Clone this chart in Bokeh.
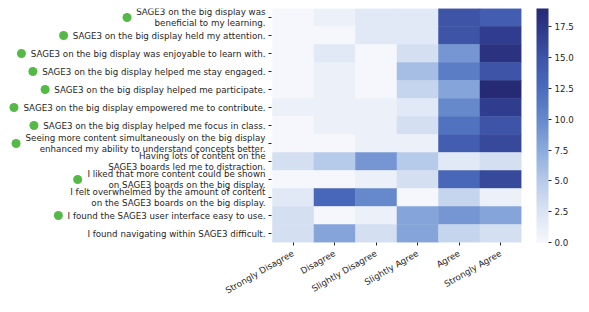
import numpy as np
from bokeh.plotting import figure
from bokeh.models import (FactorRange, Range1d, LinearColorMapper, ColorBar, FixedTicker,
                          PrintfTickFormatter, ColumnDataSource)
from bokeh.embed import file_html
from bokeh.resources import INLINE
from bokeh.core.properties import value

# ---------------- data ----------------
responses = ["Strongly Disagree", "Disagree", "Slightly Disagree",
             "Slightly Agree", "Agree", "Strongly Agree"]

statements = [
    "SAGE3 on the big display was\nbeneficial to my learning.",
    "SAGE3 on the big display held my attention.",
    "SAGE3 on the big display was enjoyable to learn with.",
    "SAGE3 on the big display helped me stay engaged.",
    "SAGE3 on the big display helped me participate.",
    "SAGE3 on the big display empowered me to contribute.",
    "SAGE3 on the big display helped me focus in class.",
    "Seeing more content simultaneously on the big display\nenhanced my ability to understand concepts better.",
    "Having lots of content on the\nSAGE3 boards led me to distraction.",
    "I liked that more content could be shown\non SAGE3 boards on the big display.",
    "I felt overwhelmed by the amount of content\non the SAGE3 boards on the big display.",
    "I found the SAGE3 user interface easy to use.",
    "I found navigating within SAGE3 difficult.",
]

# green dot marks positively phrased statements
positive = [True, True, True, True, True, True, True, True,
            False, True, False, True, False]

counts = [
    [0, 1, 2, 2, 15, 14],
    [0, 0, 2, 2, 15, 17],
    [0, 2, 0, 3, 9, 18],
    [0, 1, 0, 6, 11, 15],
    [0, 1, 0, 4, 8, 19],
    [1, 1, 1, 2, 10, 17],
    [0, 1, 1, 3, 12, 15],
    [0, 0, 1, 1, 14, 16],
    [3, 5, 9, 5, 2, 3],
    [0, 0, 1, 3, 13, 16],
    [2, 13, 10, 0, 4, 1],
    [3, 0, 1, 8, 9, 8],
    [3, 8, 3, 8, 4, 3],
]

cbar_ticks = [0, 2.5, 5, 7.5, 10, 12.5, 15, 17.5]

# ---------------- styling ----------------
FONT = "DejaVu Sans"
FS = 8.7
TXT = "#262626"
GREEN = "#55b947"

stops_v = [0.0, 2.5, 5.0, 7.5, 10.0, 12.5, 15.0, 17.5, 19.0]
stops_c = ["#f5f7fc", "#dbe4f4", "#b6cae9", "#8cabdd", "#6689cc",
           "#4b6cbc", "#3d55a8", "#2d3888", "#262a74"]


def hex2rgb(h):
    return [int(h[i:i + 2], 16) for i in (1, 3, 5)]


rgb = np.array([hex2rgb(c) for c in stops_c], dtype=float)
vmax = max(max(r) for r in counts)
grid = np.linspace(0, vmax, 256)
palette = []
for g in grid:
    comp = [np.interp(g, stops_v, rgb[:, k]) for k in range(3)]
    palette.append("#%02x%02x%02x" % tuple(int(round(c)) for c in comp))

mapper = LinearColorMapper(palette=palette, low=0, high=vmax)

# DejaVu Sans advance widths (units per em = 2048)
W = {' ': 651, '.': 651, '3': 1303, 'A': 1401, 'E': 1294, 'G': 1577, 'H': 1540,
     'I': 604, 'S': 1300, 'a': 1255, 'b': 1300, 'c': 1126, 'd': 1300, 'e': 1260,
     'f': 721, 'g': 1300, 'h': 1298, 'i': 569, 'j': 569, 'k': 1186, 'l': 569,
     'm': 1995, 'n': 1298, 'o': 1253, 'p': 1300, 'q': 1300, 'r': 842, 's': 1067,
     't': 803, 'u': 1298, 'v': 1212, 'w': 1675, 'x': 1212, 'y': 1212, 'z': 1075}


def text_width(s):
    return sum(W.get(ch, 1250) for ch in s) / 2048.0 * FS


# ---------------- layout constants (pixels) ----------------
HEAT_W = 249
FRAME_H = 234
LEFT = 272                       # room for the statement labels
NCOL = len(responses)
COL_PX = HEAT_W / NCOL
GAP = 7                          # label end -> heatmap edge
LINE_SP = 10.5                   # line spacing of wrapped labels

yr = FactorRange(factors=list(reversed(statements)))
xr = Range1d(-LEFT / COL_PX, NCOL)

p = figure(x_range=xr, y_range=yr, frame_width=LEFT + HEAT_W, frame_height=FRAME_H,
           min_border_top=8, min_border_left=0, min_border_right=0,
           y_axis_location=None,
           toolbar_location=None, tools="", output_backend="svg")
p.outline_line_color = None
p.grid.visible = False

# heatmap cells
hx, hy, hv = [], [], []
for s, r in zip(statements, counts):
    for j, v in enumerate(r):
        hx.append(j + 0.5)
        hy.append(s)
        hv.append(v)
src = ColumnDataSource(dict(x=hx, y=hy, v=hv))
p.rect(x="x", y="y", width=1, height=1, source=src,
       fill_color={"field": "v", "transform": mapper},
       line_color={"field": "v", "transform": mapper}, line_width=0.5)

# x axis with category names
centers = [j + 0.5 for j in range(NCOL)]
p.xaxis.ticker = FixedTicker(ticks=centers)
p.xaxis.major_label_overrides = {c: name for c, name in zip(centers, responses)}
p.xaxis.axis_line_color = None
p.xaxis.major_tick_in = 0
p.xaxis.major_tick_out = 3
p.xaxis.major_tick_line_color = TXT
p.xaxis.minor_tick_line_color = None
p.xaxis.major_label_orientation = np.pi / 6
p.xaxis.major_label_text_font = FONT
p.xaxis.major_label_text_font_size = f"{FS}px"
p.xaxis.major_label_text_color = TXT
p.xaxis.major_label_standoff = 7

# y tick marks at the heatmap's left edge
n = len(statements)
p.segment(x0=[-4 / COL_PX] * n, x1=[-1 / COL_PX] * n, y0=statements, y1=statements,
          line_color=TXT, line_width=1)

# statement labels (wrapped lines) and green dots
lx, ly, lt, lo = [], [], [], []
dx, dy = [], []
for s, pos in zip(statements, positive):
    lines = s.split("\n")
    k = len(lines)
    for i, ln in enumerate(lines):
        lx.append(-GAP / COL_PX)
        ly.append(s)
        lt.append(ln)
        lo.append((i - (k - 1) / 2.0) * LINE_SP)
    if pos:
        wmax = max(text_width(ln) for ln in lines)
        dx.append(-(GAP + wmax + 9) / COL_PX)
        dy.append(s)

lab_src = ColumnDataSource(dict(x=lx, y=ly, t=lt, off=lo))
p.text(x="x", y="y", text="t", y_offset="off", source=lab_src,
       text_align="right", text_baseline="middle",
       text_font=value(FONT), text_font_size=f"{FS}px", text_color=TXT)
p.scatter(x=dx, y=dy, size=9, color=GREEN, line_color=None)

cb = ColorBar(color_mapper=mapper, ticker=FixedTicker(ticks=cbar_ticks),
              formatter=PrintfTickFormatter(format="%.1f"),
              width=12, height=FRAME_H, padding=0, margin=0, location=(15, 0),
              major_tick_in=0, major_tick_out=3, major_tick_line_color=TXT,
              major_label_text_font=FONT, major_label_text_font_size=f"{FS}px",
              major_label_text_color=TXT, label_standoff=3,
              bar_line_color=None, background_fill_color=None)
p.add_layout(cb, "right")

open("out.html", "w").write(file_html(p, INLINE))
